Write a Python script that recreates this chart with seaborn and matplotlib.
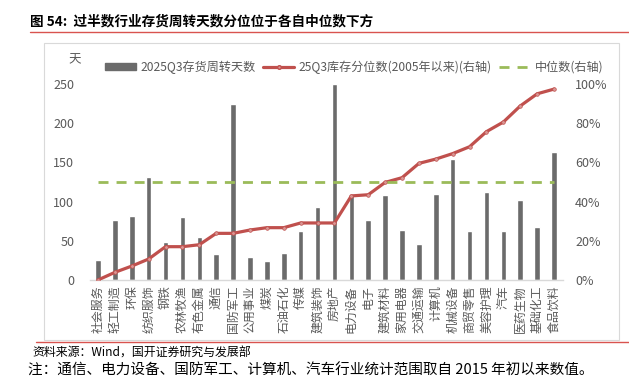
import numpy as np
import pandas as pd
import matplotlib
matplotlib.use("Agg")
import matplotlib.pyplot as plt
from matplotlib.lines import Line2D
from matplotlib.patches import Rectangle, Patch
import seaborn as sns

categories = ["社会服务", "轻工制造", "环保", "纺织服饰", "钢铁", "农林牧渔", "有色金属", "通信",
              "国防军工", "公用事业", "煤炭", "石油石化", "传媒", "建筑装饰", "房地产", "电力设备",
              "电子", "建筑材料", "家用电器", "交通运输", "计算机", "机械设备", "商贸零售", "美容护理",
              "汽车", "医药生物", "基础化工", "食品饮料"]
turnover_days = [26, 76, 82, 132, 48, 80, 55, 33, 224, 29, 24, 34, 63, 93, 250, 110,
                 76, 108, 64, 46, 110, 154, 63, 112, 63, 102, 67, 163]
percentile = [0, 3.9, 7.1, 10.7, 17, 17, 18, 23.8, 23.8, 25.5, 26.7, 26.7, 29.1, 29.1, 29.1, 42.9,
              43.5, 49.8, 52.2, 59.5, 61.7, 64.5, 68, 75.7, 80.6, 88.8, 95, 97.4]
median_pct = [50] * len(categories)
left_ticks = [0, 50, 100, 150, 200, 250]
right_ticks = [0, 20, 40, 60, 80, 100]

title = "图 54:  过半数行业存货周转天数分位位于各自中位数下方"
label_bar = "2025Q3存货周转天数"
label_line = "25Q3库存分位数(2005年以来)(右轴)"
label_med = "中位数(右轴)"
unit_label = "天"
source = "资料来源：Wind，国开证券研究与发展部"
note = "注：通信、电力设备、国防军工、计算机、汽车行业统计范围取自 2015 年初以来数值。"

sns.set_style("white")
plt.rcParams['font.family'] = ['Noto Sans CJK SC', 'DejaVu Sans']

BAR = "#6b6b6b"
RED = "#c0504d"
GREEN = "#9bbb59"
TXT = "#595959"

W, H = 629, 380
fig = plt.figure(figsize=(W / 100, H / 100), dpi=100)
ax = fig.add_axes([89.5 / W, 100 / H, (562.5 - 89.5) / W, 196 / H])

df = pd.DataFrame({"cat": categories, "days": turnover_days, "pct": percentile,
                   "med": median_pct, "pos": np.arange(len(categories))})

sns.barplot(data=df, x="cat", y="days", color=BAR, saturation=1, width=0.33, ax=ax)
ax.set_ylim(0, 250)
ax.set_xlim(-0.5, len(categories) - 0.5)
ax.set_yticks(left_ticks)
ax.set_xlabel("")
ax.set_ylabel("")

ax2 = ax.twinx()
sns.lineplot(data=df, x="pos", y="pct", color=RED, lw=2.3, marker="o", markersize=2.6,
             markerfacecolor="#d99694", markeredgecolor=RED, markeredgewidth=0.5, ax=ax2)
sns.lineplot(data=df, x="pos", y="med", color=GREEN, lw=2.0, ax=ax2, dashes=False)
ax2.lines[-1].set_dashes((3.6, 2.9))
ax2.set_ylim(0, 100)
ax2.set_yticks(right_ticks)
ax2.set_yticklabels([f"{v}%" for v in right_ticks])
ax2.set_ylabel("")
ax2.set_xlim(-0.5, len(categories) - 0.5)

for a in (ax, ax2):
    for s in a.spines.values():
        s.set_visible(False)
ax.spines["bottom"].set_visible(True)
ax.spines["bottom"].set_color("#d9d9d9")
ax.spines["bottom"].set_linewidth(1.0)

ax.tick_params(axis="x", length=0, pad=4, labelsize=8.6, labelcolor=TXT)
ax.tick_params(axis="y", length=0, pad=11, labelsize=9, labelcolor=TXT)
ax2.tick_params(axis="y", length=0, pad=9, labelsize=9, labelcolor=TXT)
plt.setp(ax.get_xticklabels(), rotation=90, ha="right", va="center", rotation_mode="anchor")

# unit label
fig.text(68 / W, 1 - 60 / H, unit_label, fontsize=9, color=TXT, ha="left", va="center")

# legend
handles = [Patch(facecolor=BAR, edgecolor=BAR),
           Line2D([], [], color=RED, lw=2.3, marker="o", markersize=2.6,
                  markerfacecolor="#d99694", markeredgecolor=RED),
           Line2D([], [], color=GREEN, lw=2.0, dashes=(3.6, 2.9))]
fig.legend(handles, [label_bar, label_line, label_med], loc="center", ncol=3,
           bbox_to_anchor=(354 / W, 1 - 67 / H), frameon=False, fontsize=8.7,
           handlelength=2.6, handleheight=0.55, handletextpad=0.35, columnspacing=0.6,
           labelcolor=TXT)

# chart frame
fig.patches.append(Rectangle((44 / W, 1 - 340 / H), (619 - 44) / W, (340 - 43) / H,
                             transform=fig.transFigure, fill=False, edgecolor="#d9d9d9", lw=0.8))

# title and rules
fig.text(30 / W, 1 - 21 / H, title, fontsize=9.8, fontweight="bold", color="black",
         ha="left", va="center")
fig.add_artist(Line2D([30 / W, 1], [1 - 32 / H, 1 - 32 / H], transform=fig.transFigure,
                      color="#d9534f", lw=1.0))
fig.add_artist(Line2D([36 / W, 1], [1 - 342 / H, 1 - 342 / H], transform=fig.transFigure,
                      color="#d9534f", lw=1.0))
fig.text(32 / W, 1 - 353 / H, source, fontsize=8.6, color="black", ha="left", va="center")
fig.text(28 / W, 1 - 371 / H, note, fontsize=10.5, color="black", ha="left", va="center")

fig.savefig("out.png", dpi=100)
